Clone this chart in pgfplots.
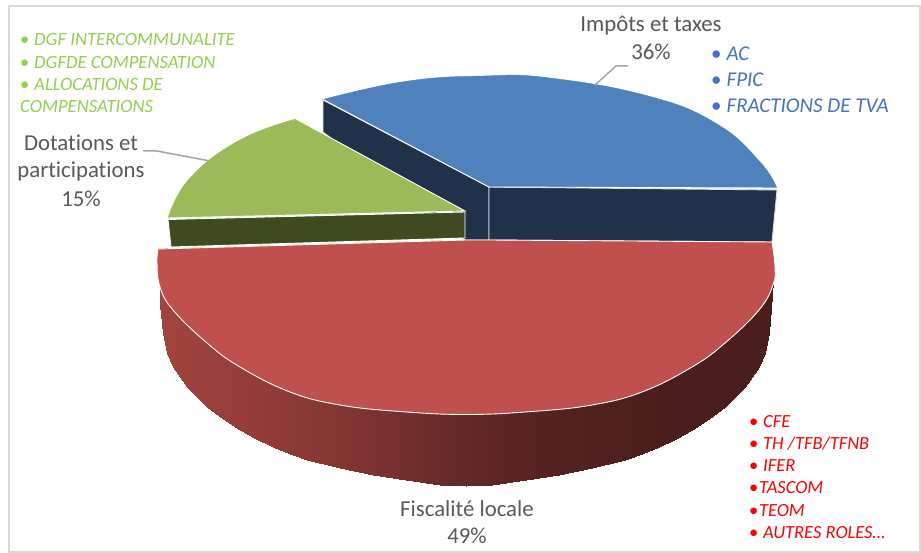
\documentclass[border=0pt]{standalone}
\usepackage{fontspec}
\setmainfont[Ligatures=NoCommon]{Carlito}
\usepackage{pgfplots}
\usepackage{pgfplotstable}
\pgfplotsset{compat=1.18}

\definecolor{txt}{HTML}{595959}
\definecolor{blueTop}{HTML}{4F81BD}
\definecolor{blueWall}{HTML}{1F3249}
\definecolor{greenTop}{HTML}{9BBB59}
\definecolor{greenWall}{HTML}{404A21}
\definecolor{redTop}{HTML}{C0504D}
\definecolor{listBlue}{HTML}{4472C4}
\definecolor{listGreen}{HTML}{92D050}
\definecolor{listRed}{HTML}{FF0000}
\definecolor{frameGrey}{HTML}{D9D9D9}
\definecolor{leader}{HTML}{A6A6A6}

\pgfplotsset{colormap={wallshade}{
  rgb255=(161,68,63) rgb255=(147,60,56) rgb255=(125,52,49) rgb255=(100,40,38)
  rgb255=(82,33,31) rgb255=(74,30,28) rgb255=(74,30,28)}}

% Front wall of the largest slice: upper edge (tucked under the top face) and lower edge
\pgfplotstableread{
x y c
160 283 160
160 305 160
163 290 163
163 333 163
167 297 167
167 353 167
173 306 173
173 367 173
187 321 187
187 387 187
207 339 207
207 407 207
223 352 223
223 419 223
240 363 240
240 430 240
256 373 256
256 439 256
273 381 273
273 447 273
290 388 290
290 454 290
307 393 307
307 460 307
340 401 340
340 468 340
373 405 373
373 475 373
406 407 406
406 480 406
440 410 440
440 484.5 440
466 410 466
466 486 466
492 410 492
492 484.5 492
526 407 526
526 480 526
559 405 559
559 475 559
592 401 592
592 468 592
625 393 625
625 460 625
642 388 642
642 454 642
659 381 659
659 447 659
676 373 676
676 439 676
692 363 692
692 430 692
709 352 709
709 419 709
725 339 725
725 407 725
745 321 745
745 387 745
759 306 759
759 367 759
765 297 765
765 353 765
769 290 769
769 333 769
773 281 773
771 308 773
}\wallTable

\newcommand{\lbl}[3]{\node[anchor=base,inner sep=0pt,text=txt,font=\fontsize{22.8}{26}\selectfont] at (axis cs:#1,#2) {#3};}
\newcommand{\entry}[5]{\node[anchor=base west,inner sep=0pt,text=#1,font=\fontsize{#5}{22}\selectfont] at (axis cs:#2,#3) {#4};}

\begin{document}
\begin{tikzpicture}
\begin{axis}[
  scale only axis, width=921pt, height=553pt,
  xmin=0, xmax=921, ymin=0, ymax=553, y dir=reverse,
  hide axis, clip=true,
  colormap name=wallshade, point meta min=160, point meta max=772,
]
% page and frame
\addplot[fill=white, draw=none] coordinates {(0,0) (921,0) (921,553) (0,553)} -- cycle;
\addplot[draw=frameGrey, line width=1.4pt] coordinates {(9,6) (920,6) (920,552) (9,552)} -- cycle;

% Impôts et taxes: two cut faces, then the top
\addplot[fill=blueWall, draw=white!85!blueWall, line width=0.9pt] coordinates {(323,100) (489,187) (489,240) (465,240) (323,132)} -- cycle;
\addplot[fill=blueWall, draw=white!85!blueWall, line width=0.9pt] coordinates {(489,187) (777,190) (772,242) (489,240)} -- cycle;
\addplot[fill=blueTop, draw=blueTop, line width=0.4pt] coordinates {(323,99.5) (776.7,188) (489,187)} -- cycle;
\addplot[smooth, tension=0.75, fill=blueTop, draw=blueTop, line width=0.4pt] coordinates {
  (323,99.5) (405,81.5) (483,76) (550,78) (650,96.5) (717,124) (760,162) (776.7,188)};
\addplot[draw=blueTop, line width=1.6pt] coordinates {(330,101) (770,186.7)};
\addplot[draw=white, line width=0.9pt] coordinates {(323,99.5) (489,187) (776.7,188)};

% Dotations et participations
\addplot[fill=greenWall, draw=white, line width=0.9pt] coordinates {(168,219.5) (465,212) (465,238) (171,247)} -- cycle;
\addplot[fill=greenTop, draw=greenTop, line width=0.4pt] coordinates {(168,218) (296,119) (465,211)} -- cycle;
\addplot[smooth, tension=0.75, fill=greenTop, draw=greenTop, line width=0.4pt] coordinates {
  (168,218) (190,178) (240,140) (296,119)};
\addplot[draw=greenTop, line width=1.6pt] coordinates {(172,215) (292,122)};
\addplot[draw=white, line width=0.9pt] coordinates {(296,119) (465,211) (168,218)};

% Fiscalité locale: shaded wall, then the top
\addplot[surf, shader=interp, mesh/cols=2, point meta=explicit] table[x=x, y=y, meta=c] {\wallTable};
\addplot[fill=redTop, draw=redTop, line width=0.4pt] coordinates {(158,249) (466,240) (772,242)} -- cycle;
\addplot[smooth, tension=0.7, fill=redTop, draw=white, line width=0.9pt] coordinates {
  (158,249) (157,263) (160,287) (173,310) (207,343) (240,367) (290,392) (340,405) (400,411.5) (466,414.5)
  (532,411.5) (592,405) (642,392) (692,367) (725,343) (759,310) (773,285) (775,267) (772,242)};
\addplot[draw=redTop, line width=1.6pt] coordinates {(165,249) (765,242)};
\addplot[draw=white, line width=0.9pt] coordinates {(158,249) (466,240) (489,240) (772,242)};

% leader lines
\addplot[draw=leader, line width=1.5pt] coordinates {(595,85) (616,66) (628,66)};
\addplot[draw=leader, line width=1.5pt] coordinates {(143,151) (157,151) (210,161)};

% category labels
\lbl{651}{32}{Impôts et taxes}
\lbl{651}{60}{36\%}
\lbl{81}{151}{Dotations et}
\lbl{81}{178}{participations}
\lbl{81}{207}{15\%}
\lbl{467}{516}{Fiscalité locale}
\lbl{467}{543}{49\%}

% lists beside the slices
\entry{listBlue}{711}{61}{•\hspace{5pt}\itshape AC}{21}
\entry{listBlue}{711}{87}{•\hspace{5pt}\itshape FPIC}{21}
\entry{listBlue}{711}{113}{•\hspace{5pt}\itshape FRACTIONS DE TVA}{21}

\entry{listGreen}{20}{46}{•\hspace{4.7pt}\itshape DGF INTERCOMMUNALITE}{18.7}
\entry{listGreen}{20}{69}{•\hspace{4.7pt}\itshape DGFDE COMPENSATION}{18.7}
\entry{listGreen}{20}{91}{•\hspace{4.7pt}\itshape ALLOCATIONS DE}{18.7}
\entry{listGreen}{20}{113}{\itshape COMPENSATIONS}{18.7}

\entry{listRed}{749}{427}{•\hspace{4.7pt}\itshape CFE}{18.5}
\entry{listRed}{749}{449}{•\hspace{4.7pt}\itshape TH /TFB/TFNB}{18.5}
\entry{listRed}{749}{471}{•\hspace{4.7pt}\itshape IFER}{18.5}
\entry{listRed}{749}{493}{•\hspace{0.7pt}\itshape TASCOM}{18.5}
\entry{listRed}{749}{516}{•\hspace{0.7pt}\itshape TEOM}{18.5}
\entry{listRed}{749}{538}{•\hspace{4.7pt}\itshape AUTRES ROLES…}{18.5}
\end{axis}
\end{tikzpicture}
\end{document}
